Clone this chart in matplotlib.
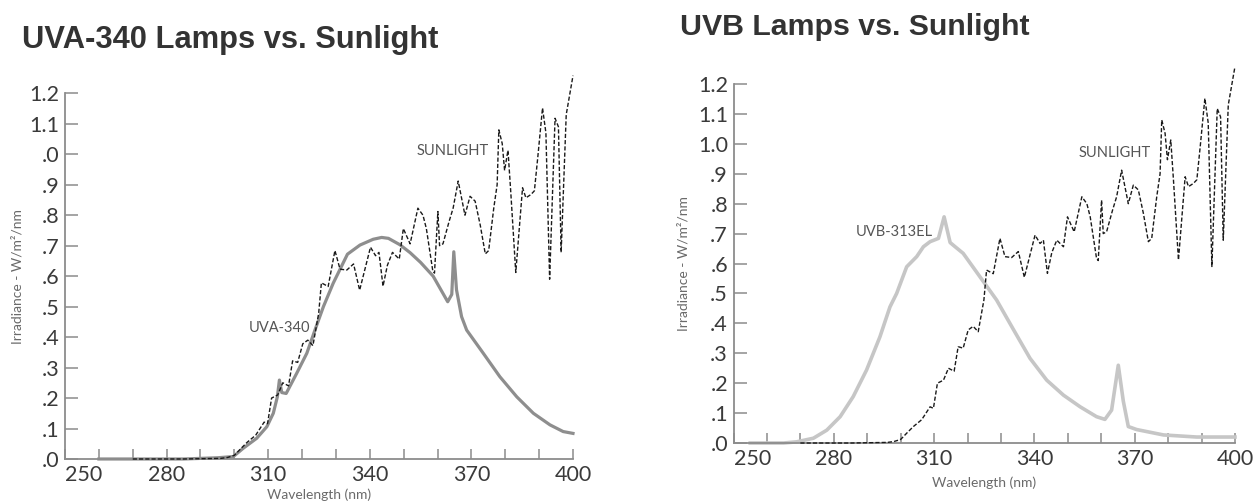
import matplotlib
matplotlib.use("Agg")
import matplotlib.pyplot as plt

# ---- data ----
SUN_NM = [270, 285, 296, 298, 300, 302, 303.8, 306.3, 308.8, 309.8, 311.0, 312.8, 314.3, 316.0,
          317.2, 318.7, 320.2, 321.7, 323.2, 324.9, 325.7, 327.7, 329.7, 331.2, 333.2, 335.2,
          337.0, 340.2, 341.7, 342.7, 343.9, 345.2, 346.7, 348.7, 349.9, 351.9, 354.2, 355.7,
          356.7, 358.6, 359.1, 360.1, 360.6, 361.6, 363.4, 364.6, 366.1, 368.1, 369.6, 371.1,
          372.6, 374.1, 375.1, 376.6, 377.6, 378.1, 379.1, 379.8, 380.8, 381.6, 383.1, 385.1,
          386.1, 387.6, 388.6, 389.6, 391.0, 392.0, 393.1, 394.7, 395.7, 396.5, 398.0, 400.0]
SUN_VAL = [0.0, 0.0, 0.002, 0.005, 0.012, 0.035, 0.055, 0.078, 0.121, 0.116, 0.200, 0.210, 0.250, 0.240,
           0.322, 0.317, 0.378, 0.390, 0.372, 0.478, 0.578, 0.566, 0.684, 0.623, 0.620, 0.640,
           0.554, 0.695, 0.667, 0.678, 0.567, 0.636, 0.678, 0.656, 0.756, 0.706, 0.823, 0.800,
           0.756, 0.617, 0.610, 0.812, 0.700, 0.706, 0.779, 0.823, 0.912, 0.800, 0.862, 0.846,
           0.768, 0.673, 0.684, 0.823, 0.900, 1.080, 1.035, 0.947, 1.013, 0.880, 0.612, 0.890,
           0.857, 0.868, 0.880, 0.990, 1.152, 1.070, 0.590, 1.118, 1.090, 0.678, 1.130, 1.258]

UVA_NM = [260, 285, 290, 295, 299.7, 302.6, 306.6, 309.6, 311.5, 312.7, 313.3, 314.0, 315.3,
          318.4, 321.4, 323.8, 326.3, 329.2, 333.4, 337.1, 341.0, 343.5, 345.5, 348.9, 351.9,
          355.0, 358.7, 363.0, 364.2, 364.8, 365.6, 367.1, 368.6, 373.5, 378.4, 383.4, 388.3,
          393.2, 397.1, 400.0]
UVA_VAL = [0.0, 0.0, 0.002, 0.004, 0.008, 0.035, 0.068, 0.106, 0.150, 0.204, 0.259, 0.218, 0.215,
           0.281, 0.347, 0.423, 0.500, 0.577, 0.672, 0.702, 0.721, 0.727, 0.724, 0.703, 0.677,
           0.645, 0.600, 0.516, 0.540, 0.680, 0.555, 0.467, 0.423, 0.347, 0.270, 0.204, 0.150,
           0.112, 0.090, 0.084]

UVB_NM = [255, 265, 268.9, 273.9, 277.9, 281.9, 285.8, 289.8, 293.8, 296.8, 298.8, 301.8, 304.8,
          306.8, 308.8, 311.3, 313.0, 314.8, 316.3, 318.7, 323.7, 328.7, 333.7, 338.7, 343.7,
          348.7, 353.7, 358.6, 361.1, 363.1, 365.1, 366.6, 368.1, 370.6, 378.6, 388.6, 400.0]
UVB_VAL = [0.0, 0.0, 0.004, 0.016, 0.043, 0.088, 0.155, 0.244, 0.355, 0.455, 0.500, 0.589, 0.623,
           0.656, 0.673, 0.684, 0.756, 0.670, 0.656, 0.634, 0.556, 0.478, 0.380, 0.283, 0.210,
           0.160, 0.121, 0.088, 0.079, 0.110, 0.260, 0.140, 0.055, 0.045, 0.027, 0.020, 0.020]

X_TICKS = list(range(250, 401, 10))
X_LABELED = [250, 280, 310, 340, 370, 400]
Y_TICKS = [0.0, 0.1, 0.2, 0.3, 0.4, 0.5, 0.6, 0.7, 0.8, 0.9, 1.0, 1.1, 1.2]
Y_LABELS_LEFT = [".0", ".1", ".2", ".3", ".4", ".5", ".6", ".7", ".8", ".9", ".0", "1.1", "1.2"]
Y_LABELS_RIGHT = [".0", ".1", ".2", ".3", ".4", ".5", ".6", ".7", ".8", ".9", "1.0", "1.1", "1.2"]

# ---- style ----
AXIS_GRAY = "#8c8c8c"
TICK_TXT = "#3a3a3a"
LABEL_TXT = "#6a6a6a"
TITLE_TXT = "#333333"
NOTE_TXT = "#555555"
SANS = ["Lato", "DejaVu Sans"]
TITLE_FONT = ["Liberation Sans", "DejaVu Sans"]


def style_axes(ax, ylabels):
    ax.set_xlim(250, 400)
    ax.set_ylim(0, 1.2)
    for s in ("top", "right"):
        ax.spines[s].set_visible(False)
    for s in ("left", "bottom"):
        ax.spines[s].set_color(AXIS_GRAY)
        ax.spines[s].set_linewidth(1.3)
    ax.set_xticks(X_TICKS)
    ax.set_xticklabels([str(t) if t in X_LABELED else "" for t in X_TICKS])
    ax.set_yticks(Y_TICKS)
    ax.set_yticklabels(ylabels)
    ax.tick_params(axis="x", direction="in", length=7, width=1.1, color=AXIS_GRAY,
                   labelsize=15.5, labelcolor=TICK_TXT, pad=4)
    ax.tick_params(axis="y", direction="in", length=9, width=1.1, color=AXIS_GRAY,
                   labelsize=15.5, labelcolor=TICK_TXT, pad=4)
    for lab in ax.get_xticklabels() + ax.get_yticklabels():
        lab.set_family(SANS)
    # first x label sits to the right of its tick, as in the original artwork
    ax.get_xticklabels()[0].set_horizontalalignment("left")
    ax.set_facecolor("white")


fig = plt.figure(figsize=(12.53, 5.04), dpi=100)
fig.patch.set_facecolor("white")

# ── left: UVA-340 ───────────────────────────────
axL = fig.add_axes([0.0519, 0.0893, 0.4054, 0.7256])
style_axes(axL, Y_LABELS_LEFT)
axL.plot(UVA_NM, UVA_VAL, color="#8e8e8e", lw=2.3, clip_on=False, zorder=2,
         solid_joinstyle="round")
axL.plot(SUN_NM, SUN_VAL, color="#1a1a1a", lw=1.0, ls=(0, (3, 1.5)), clip_on=False, zorder=3)
axL.text(364.6, 1.01, "SUNLIGHT", ha="center", va="center", fontsize=10.5,
         color=NOTE_TXT, family=SANS)
axL.text(322.5, 0.43, "UVA-340", ha="right", va="center", fontsize=10.5,
         color=NOTE_TXT, family=SANS)
axL.set_xlabel("Wavelength (nm)", fontsize=10, color=LABEL_TXT, family=SANS, labelpad=3)
axL.set_ylabel("Irradiance - W/m²/nm", fontsize=10, color=LABEL_TXT, family=SANS, labelpad=4)
fig.text(0.0176, 0.92, "UVA-340 Lamps vs. Sunlight", ha="left", va="center",
         fontsize=22.2, fontweight="bold", color=TITLE_TXT, family=TITLE_FONT)

# ── right: UVB-313EL ────────────────────────────
axR = fig.add_axes([0.5854, 0.1210, 0.4002, 0.7123])
style_axes(axR, Y_LABELS_RIGHT)
axR.plot(UVB_NM, UVB_VAL, color="#c6c6c6", lw=2.6, clip_on=False, zorder=2,
         solid_joinstyle="round")
axR.plot(SUN_NM, SUN_VAL, color="#1a1a1a", lw=1.0, ls=(0, (3, 1.5)), clip_on=False, zorder=3)
axR.text(364.1, 0.97, "SUNLIGHT", ha="center", va="center", fontsize=10.5,
         color=NOTE_TXT, family=SANS)
axR.text(309.5, 0.705, "UVB-313EL", ha="right", va="center", fontsize=10.5,
         color=NOTE_TXT, family=SANS)
axR.set_xlabel("Wavelength (nm)", fontsize=10, color=LABEL_TXT, family=SANS, labelpad=6)
axR.set_ylabel("Irradiance - W/m²/nm", fontsize=10, color=LABEL_TXT, family=SANS, labelpad=6)
fig.text(0.5427, 0.946, "UVB Lamps vs. Sunlight", ha="left", va="center",
         fontsize=21.8, fontweight="bold", color=TITLE_TXT, family=TITLE_FONT)

fig.savefig("out.png", dpi=100, facecolor="white")
